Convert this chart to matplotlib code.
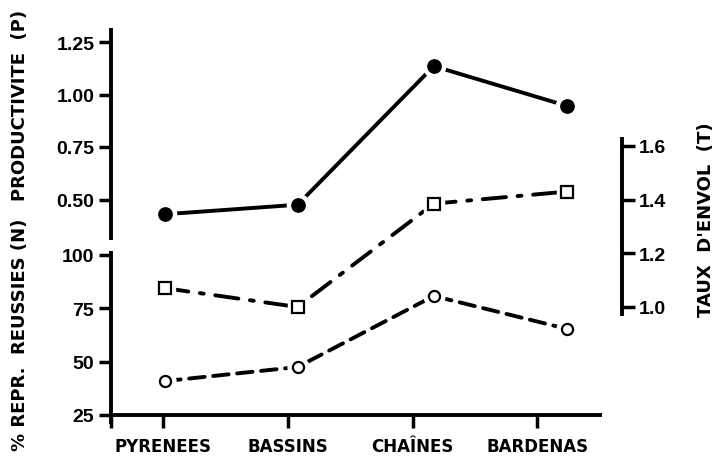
import matplotlib.pyplot as plt
from matplotlib.ticker import NullFormatter

# categories and values
sites = ['PYRENEES', 'BASSINS', 'CHAÎNES', 'BARDENAS']
site_x = [0.02, 1.08, 2.17, 3.24]   # points are slightly shifted from the ticks in the original
productivite = [0.43, 0.475, 1.135, 0.945]   # P, left upper axis
taux_envol = [1.07, 1.0, 1.385, 1.43]        # T, right axis
reussies = [40.9, 47.5, 80.8, 65.3]          # N (%), left lower axis

W, H = 716, 464
narrow = ['Liberation Sans Narrow', 'DejaVu Sans']
num = ['Liberation Sans', 'DejaVu Sans']

fig = plt.figure(figsize=(W / 100, H / 100), dpi=100)

# pixel geometry of the drawing area
x0, x1 = 111, 602
y_top, y_bot = 29, 416
ax_n = fig.add_axes([x0 / W, 1 - y_bot / H, (x1 - x0) / W, (y_bot - y_top) / H])
ax_n.patch.set_alpha(0)

# x scale: ticks at 160 px, spacing 125.7 px
xs = 125.7
ax_n.set_xlim((x0 - 160) / xs, (x1 - 160) / xs)

# N axis: 100 -> 256 px, 25 -> 416 px
n_px = 160 / 75
ax_n.set_ylim(25, 25 + (y_bot - y_top) / n_px)

# P axis: 1.25 -> 43 px, 0.25 per 52.5 px
ax_p = ax_n.twinx()
p_px = 52.5 / 0.25
ax_p.set_ylim(1.25 - (y_bot - 43) / p_px, 1.25 + (43 - y_top) / p_px)

# T axis: 1.0 -> 308 px, 0.2 per 53.7 px
ax_t = ax_n.twinx()
t_px = 53.7 / 0.2
ax_t.set_ylim(1.0 - (y_bot - 308) / t_px, 1.0 + (308 - y_top) / t_px)

lw_spine = 2.8
for ax in (ax_n, ax_p, ax_t):
    for s in ax.spines.values():
        s.set_visible(False)
        s.set_linewidth(lw_spine)
        s.set_capstyle('butt')

# lower left axis (N)
ax_n.spines['left'].set_visible(True)
ax_n.spines['left'].set_bounds(25 - 9 / n_px, 25 + (y_bot - 252) / n_px)
ax_n.spines['bottom'].set_visible(True)
ax_n.spines['bottom'].set_position(('data', 25))
ax_n.set_yticks([25, 50, 75, 100])
ax_n.tick_params(axis='y', direction='out', length=9, width=2.5, pad=3, labelsize=14)
ax_n.set_xticks(range(len(sites)))
ax_n.set_xticklabels(sites, fontfamily=narrow, fontweight='heavy', fontsize=12)
ax_n.set_xticks([(108 - 160) / xs], minor=True)
ax_n.xaxis.set_minor_formatter(NullFormatter())
ax_n.tick_params(axis='x', which='both', direction='out', length=9, width=2.5, pad=7)
for lab in ax_n.get_yticklabels():
    lab.set_fontfamily(num)
    lab.set_fontweight('bold')

# upper left axis (P)
ax_p.yaxis.tick_left()
ax_p.spines['left'].set_visible(True)
ax_p.spines['left'].set_bounds(1.25 - (241 - 43) / p_px, 1.25 + (43 - y_top) / p_px)
ax_p.set_yticks([0.5, 0.75, 1.0, 1.25])
ax_p.set_yticklabels(['0.50', '0.75', '1.00', '1.25'])
ax_p.tick_params(axis='y', direction='out', length=9, width=2.5, pad=3, labelsize=14)
for lab in ax_p.get_yticklabels():
    lab.set_fontfamily(num)
    lab.set_fontweight('bold')

# right axis (T)
ax_t.spines['right'].set_visible(True)
ax_t.spines['right'].set_position(('axes', (622 - x0) / (x1 - x0)))
ax_t.spines['right'].set_bounds(1.0 - (317 - 308) / t_px, 1.0 + (308 - 138) / t_px)
ax_t.set_yticks([1.0, 1.2, 1.4, 1.6])
ax_t.tick_params(axis='y', direction='out', length=9, width=2.5, pad=3, labelsize=14)
for lab in ax_t.get_yticklabels():
    lab.set_fontfamily(num)
    lab.set_fontweight('bold')


def draw(ax, ys, ls, marker, face, ms, gap):
    ax.plot(site_x, ys, color='black', lw=2.8, ls=ls, solid_capstyle='round',
            dash_capstyle='round', clip_on=False, zorder=2)
    ax.plot(site_x, ys, ls='none', marker=marker, ms=ms + gap, mfc='white',
            mec='white', clip_on=False, zorder=3)
    ax.plot(site_x, ys, ls='none', marker=marker, ms=ms, mfc=face,
            mec='black', mew=1.6, clip_on=False, zorder=4)


draw(ax_p, productivite, '-', 'o', 'black', 9, 7)
draw(ax_t, taux_envol, (0, (6, 3, 1, 3)), 's', 'white', 8, 7)
draw(ax_n, reussies, (0, (4, 2.2)), 'o', 'white', 8, 7)

# axis titles
title_kw = dict(fontfamily=narrow, fontweight='heavy', fontsize=13, rotation=90,
                ha='center', va='center')
fig.text(20 / W, 1 - 105 / H, 'PRODUCTIVITE  (P)', **title_kw)
fig.text(20 / W, 1 - 335 / H, '% REPR.  REUSSIES (N)', **title_kw)
fig.text(706 / W, 1 - 220 / H, "TAUX  D'ENVOL  (T)", **title_kw)

fig.savefig('out.png', dpi=100)
